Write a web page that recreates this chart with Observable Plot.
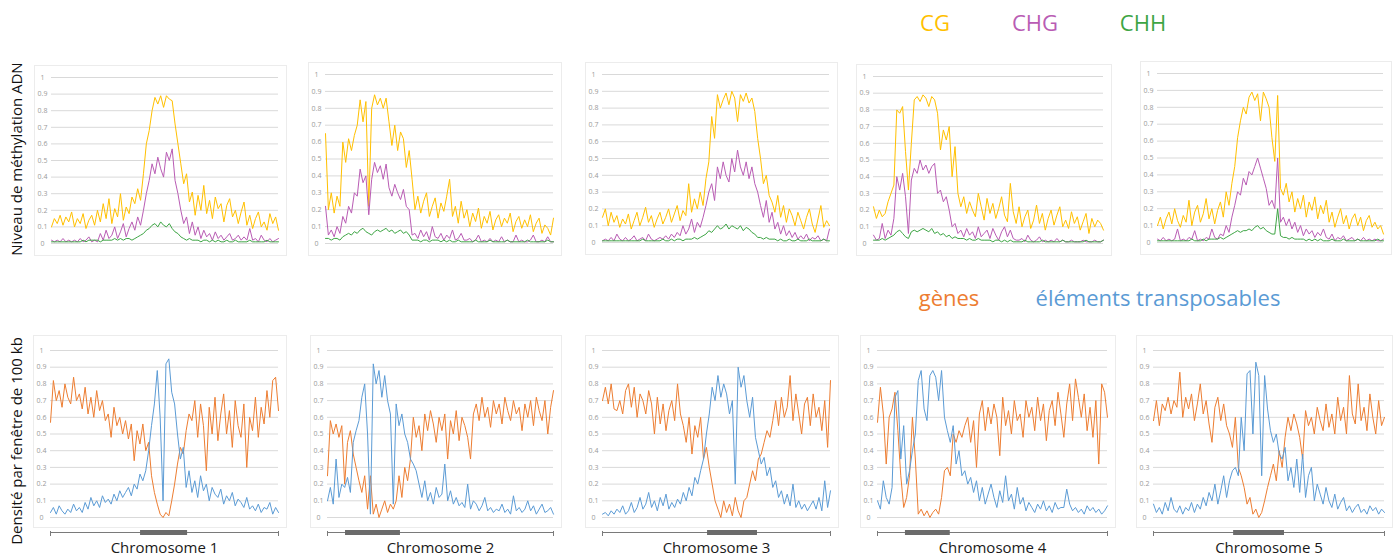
<!DOCTYPE html>
<html><head><meta charset="utf-8">
<script src="https://cdn.jsdelivr.net/npm/d3@7"></script>
<script src="https://cdn.jsdelivr.net/npm/@observablehq/plot@0.6"></script>
<style>
body{margin:0;background:#fff;}
#root{position:relative;width:1397px;height:557px;overflow:hidden;font-family:"Open Sans",Lato,sans-serif;}
.abs{position:absolute;}
.lab{position:absolute;transform:translate(-50%,-50%);font-size:22px;white-space:nowrap;}
.ytitle{position:absolute;transform:translate(-50%,-50%) rotate(-90deg);font-size:15px;white-space:nowrap;color:#111;}
.frame{position:absolute;border:1px solid #ececec;box-sizing:border-box;}
</style></head>
<body><div id="root"></div>
<script>
// ---------- DATA (windows along each chromosome) ----------
const chrLabels = ["Chromosome 1","Chromosome 2","Chromosome 3","Chromosome 4","Chromosome 5"];
const yTicks = [0,0.1,0.2,0.3,0.4,0.5,0.6,0.7,0.8,0.9,1];
// centromere span, in window index units
const centStart = [31.2, 6.3, 36.4, 9.6, 27.4];
const centEnd   = [47.5, 25.5, 53.7, 25.0, 44.8];

// methylation levels
const cg1 = [.10,.15,.12,.17,.11,.16,.13,.19,.10,.15,.12,.18,.09,.14,.17,.11,.20,.13,.24,.15,.27,.12,.21,.16,.30,.14,.22,.18,.28,.24,.33,.26,.42,.60,.68,.80,.88,.84,.89,.82,.89,.87,.86,.72,.60,.48,.36,.42,.25,.31,.17,.29,.20,.35,.18,.26,.15,.28,.21,.24,.13,.23,.27,.16,.20,.12,.19,.25,.11,.17,.09,.15,.19,.10,.13,.08,.18,.12,.16,.08];
const chg1 = [.02,.01,.02,.01,.03,.01,.02,.01,.02,.01,.03,.01,.02,.04,.01,.02,.01,.06,.02,.08,.03,.05,.10,.03,.07,.12,.04,.09,.13,.08,.16,.11,.20,.30,.38,.48,.42,.52,.45,.40,.55,.50,.57,.38,.30,.20,.12,.16,.06,.13,.05,.10,.03,.08,.04,.06,.02,.07,.03,.05,.02,.04,.06,.02,.03,.05,.02,.04,.02,.09,.02,.03,.01,.05,.02,.01,.03,.01,.02,.03];
const chh1 = [.01,.01,.01,.01,.01,.01,.01,.01,.01,.01,.01,.02,.01,.02,.02,.02,.02,.01,.02,.02,.02,.02,.03,.02,.03,.02,.03,.03,.02,.03,.04,.05,.06,.08,.09,.11,.12,.10,.13,.11,.10,.12,.09,.07,.06,.04,.03,.02,.03,.02,.02,.02,.01,.02,.02,.01,.02,.01,.02,.01,.01,.02,.01,.01,.02,.01,.01,.01,.01,.02,.01,.01,.01,.01,.01,.02,.01,.01,.01,.01];

const cg2 = [.65,.20,.30,.18,.28,.22,.60,.48,.62,.55,.64,.70,.85,.72,.84,.22,.80,.88,.82,.86,.80,.86,.72,.58,.70,.55,.66,.62,.45,.55,.38,.20,.28,.18,.25,.30,.16,.22,.27,.15,.24,.19,.28,.38,.16,.22,.12,.25,.15,.20,.10,.18,.13,.21,.09,.16,.12,.19,.08,.14,.17,.10,.15,.12,.18,.07,.13,.16,.09,.14,.10,.17,.07,.12,.15,.06,.11,.09,.05,.15];
const chg2 = [.22,.05,.08,.04,.10,.06,.16,.12,.22,.18,.30,.28,.44,.36,.40,.17,.38,.48,.42,.46,.38,.47,.33,.28,.35,.30,.26,.32,.22,.20,.05,.06,.03,.08,.04,.07,.02,.10,.04,.03,.06,.02,.05,.03,.08,.02,.03,.06,.02,.02,.03,.01,.02,.05,.01,.02,.01,.03,.01,.02,.01,.04,.01,.02,.01,.01,.05,.01,.02,.01,.01,.02,.05,.01,.01,.02,.01,.04,.01,.01];
const chh2 = [.03,.03,.02,.03,.03,.02,.04,.05,.06,.05,.07,.06,.08,.09,.07,.06,.05,.07,.08,.07,.08,.09,.07,.08,.06,.07,.08,.06,.07,.05,.02,.02,.02,.01,.02,.02,.01,.02,.02,.02,.01,.02,.01,.02,.01,.01,.02,.01,.01,.01,.01,.01,.02,.01,.01,.01,.01,.02,.01,.01,.01,.01,.01,.02,.01,.01,.01,.01,.01,.01,.02,.01,.01,.01,.01,.01,.01,.02,.01,.01];

const cg3 = [.15,.20,.10,.18,.12,.16,.09,.14,.11,.17,.08,.13,.18,.10,.15,.21,.12,.16,.09,.14,.18,.11,.15,.20,.12,.17,.22,.13,.19,.16,.35,.18,.26,.20,.30,.22,.38,.48,.75,.62,.88,.80,.85,.89,.82,.90,.86,.72,.88,.84,.89,.83,.86,.78,.62,.50,.35,.40,.28,.24,.18,.28,.15,.22,.12,.20,.16,.10,.18,.13,.08,.15,.20,.11,.06,.14,.22,.09,.13,.10];
const chg3 = [.01,.02,.01,.03,.01,.05,.02,.01,.03,.01,.02,.04,.01,.02,.03,.01,.05,.02,.01,.02,.03,.02,.04,.02,.05,.03,.06,.04,.10,.05,.08,.14,.06,.12,.09,.15,.22,.30,.35,.25,.45,.38,.48,.40,.36,.50,.42,.55,.45,.40,.48,.38,.45,.35,.30,.22,.15,.25,.12,.18,.08,.12,.05,.10,.04,.07,.03,.06,.02,.04,.02,.05,.01,.03,.02,.04,.01,.02,.01,.08];
const chh3 = [.01,.01,.01,.01,.01,.01,.01,.01,.01,.01,.01,.01,.01,.01,.02,.01,.01,.01,.01,.01,.01,.02,.01,.01,.02,.01,.02,.02,.01,.02,.02,.02,.03,.02,.03,.04,.05,.07,.06,.08,.10,.08,.09,.11,.08,.10,.09,.08,.10,.07,.09,.08,.06,.05,.03,.03,.02,.03,.02,.02,.02,.01,.02,.01,.01,.02,.01,.01,.02,.01,.01,.01,.02,.01,.01,.01,.01,.02,.01,.01];

const cg4 = [.22,.15,.20,.16,.18,.25,.30,.35,.80,.78,.82,.55,.32,.60,.86,.88,.85,.89,.87,.82,.88,.86,.78,.56,.68,.62,.70,.40,.58,.30,.22,.28,.18,.25,.20,.16,.30,.22,.14,.27,.18,.24,.15,.21,.28,.17,.13,.36,.19,.12,.22,.10,.16,.20,.09,.14,.23,.12,.18,.08,.15,.20,.11,.17,.22,.10,.14,.09,.19,.12,.16,.08,.13,.18,.06,.15,.10,.14,.12,.08];
const chg4 = [.05,.02,.03,.12,.03,.08,.05,.15,.40,.32,.42,.28,.06,.38,.45,.42,.50,.44,.47,.42,.46,.48,.30,.32,.25,.28,.20,.10,.12,.06,.08,.04,.09,.05,.07,.03,.10,.04,.06,.08,.03,.09,.05,.02,.07,.10,.04,.08,.03,.02,.02,.03,.01,.05,.02,.01,.02,.04,.01,.02,.01,.02,.01,.03,.01,.02,.01,.01,.02,.01,.01,.01,.02,.01,.01,.01,.02,.01,.01,.02];
const chh4 = [.02,.02,.02,.03,.02,.03,.04,.05,.07,.08,.06,.04,.03,.07,.08,.07,.08,.09,.08,.07,.09,.06,.07,.05,.06,.04,.05,.03,.04,.03,.03,.03,.02,.03,.02,.02,.03,.02,.02,.02,.02,.01,.02,.02,.01,.02,.01,.02,.01,.01,.01,.01,.02,.01,.01,.01,.01,.01,.02,.01,.01,.01,.01,.01,.01,.02,.01,.01,.01,.01,.01,.01,.01,.02,.01,.01,.01,.01,.01,.02];

const cg5 = [.10,.15,.08,.14,.18,.11,.20,.13,.09,.16,.12,.25,.10,.18,.22,.12,.17,.26,.14,.20,.11,.19,.24,.15,.30,.22,.35,.45,.62,.72,.80,.76,.86,.89,.84,.88,.72,.89,.85,.80,.62,.48,.87,.32,.28,.35,.24,.30,.18,.26,.20,.28,.15,.24,.19,.27,.14,.22,.17,.25,.12,.18,.09,.15,.20,.11,.16,.08,.14,.17,.10,.15,.07,.13,.16,.09,.12,.08,.10,.05];
const chg5 = [.02,.01,.03,.01,.02,.01,.02,.08,.01,.02,.01,.03,.02,.07,.01,.02,.01,.03,.02,.08,.03,.02,.05,.04,.10,.06,.15,.22,.30,.28,.38,.34,.42,.40,.45,.50,.44,.38,.32,.22,.25,.20,.50,.12,.15,.10,.14,.08,.12,.06,.10,.04,.08,.05,.07,.03,.06,.04,.08,.03,.02,.05,.01,.03,.02,.04,.01,.02,.03,.01,.02,.01,.03,.01,.02,.01,.02,.01,.01,.02];
const chh5 = [.01,.01,.01,.01,.01,.01,.01,.01,.01,.01,.01,.01,.02,.01,.01,.01,.02,.01,.02,.02,.02,.02,.03,.02,.03,.04,.05,.06,.07,.06,.07,.07,.08,.07,.09,.10,.08,.09,.07,.06,.05,.05,.20,.04,.03,.03,.02,.03,.02,.02,.02,.02,.01,.02,.01,.02,.01,.02,.01,.01,.01,.02,.01,.01,.01,.02,.01,.01,.01,.01,.02,.01,.01,.01,.01,.01,.01,.02,.01,.01];

// densities per 100 kb window
const genes1 = [.57,.82,.70,.76,.66,.80,.72,.68,.84,.70,.74,.65,.78,.62,.72,.60,.76,.64,.70,.58,.62,.48,.66,.55,.60,.50,.58,.47,.56,.34,.52,.44,.56,.40,.45,.25,.15,.08,.02,.00,.03,.01,.10,.20,.32,.42,.38,.52,.62,.58,.70,.48,.68,.55,.28,.66,.50,.72,.46,.62,.74,.50,.64,.42,.70,.55,.48,.68,.30,.60,.52,.72,.48,.66,.56,.76,.60,.82,.84,.64];
const te1 = [.03,.06,.02,.07,.04,.02,.05,.03,.08,.04,.06,.03,.09,.05,.12,.07,.10,.06,.13,.09,.11,.08,.14,.10,.16,.12,.15,.18,.13,.20,.17,.26,.22,.28,.40,.55,.68,.88,.60,.10,.92,.95,.75,.68,.50,.35,.42,.18,.28,.15,.22,.12,.25,.16,.20,.10,.18,.14,.12,.17,.08,.13,.10,.15,.07,.11,.09,.06,.12,.05,.07,.04,.08,.03,.06,.05,.09,.02,.06,.03];
const genes2 = [.25,.58,.50,.56,.48,.55,.20,.45,.52,.38,.30,.22,.15,.25,.05,.25,.02,.08,.00,.05,.10,.03,.08,.05,.10,.25,.12,.30,.22,.35,.60,.48,.55,.40,.62,.52,.64,.56,.45,.60,.52,.62,.35,.58,.50,.64,.46,.60,.55,.48,.35,.62,.68,.58,.72,.60,.66,.54,.70,.62,.68,.56,.72,.64,.58,.70,.62,.66,.52,.68,.60,.70,.55,.72,.64,.58,.70,.50,.66,.76];
const te2 = [.10,.18,.08,.35,.12,.20,.18,.24,.15,.45,.52,.58,.72,.80,.50,.02,.92,.80,.88,.72,.85,.70,.62,.08,.68,.55,.62,.50,.45,.35,.32,.28,.20,.12,.22,.10,.15,.08,.18,.12,.14,.32,.10,.16,.08,.12,.07,.09,.06,.20,.05,.10,.08,.04,.07,.12,.04,.06,.03,.05,.04,.08,.03,.05,.02,.13,.04,.06,.03,.05,.10,.04,.07,.02,.05,.08,.03,.04,.06,.02];
const genes3 = [.70,.78,.68,.80,.65,.64,.70,.62,.76,.80,.66,.78,.60,.74,.70,.62,.76,.68,.50,.72,.56,.68,.52,.64,.70,.58,.80,.62,.55,.45,.60,.38,.55,.48,.60,.35,.42,.30,.20,.10,.05,.00,.10,.03,.08,.01,.12,.04,.00,.10,.12,.20,.28,.22,.35,.38,.45,.52,.48,.58,.70,.55,.72,.60,.66,.85,.58,.74,.62,.50,.68,.72,.55,.74,.60,.66,.52,.70,.42,.82];
const te3 = [.02,.03,.01,.04,.02,.05,.03,.07,.02,.04,.09,.03,.06,.12,.05,.08,.15,.06,.10,.04,.12,.07,.14,.05,.09,.06,.11,.08,.15,.10,.18,.13,.24,.20,.28,.35,.50,.62,.78,.70,.85,.72,.80,.74,.62,.70,.20,.90,.78,.85,.70,.60,.72,.48,.40,.32,.36,.25,.30,.18,.22,.12,.16,.08,.14,.07,.20,.06,.10,.05,.08,.04,.07,.10,.05,.12,.04,.22,.06,.16];
const genes4 = [.57,.78,.62,.32,.60,.65,.75,.52,.25,.06,.12,.25,.60,.35,.02,.05,.01,.04,.00,.03,.05,.02,.12,.28,.30,.25,.50,.45,.52,.48,.55,.60,.45,.58,.30,.62,.70,.52,.66,.56,.68,.60,.37,.72,.55,.64,.50,.70,.58,.62,.48,.70,.60,.66,.52,.72,.58,.68,.46,.64,.70,.55,.75,.62,.48,.68,.80,.58,.83,.72,.60,.74,.52,.66,.48,.70,.32,.80,.75,.60];
const te4 = [.10,.05,.22,.12,.08,.18,.72,.76,.35,.55,.20,.28,.40,.50,.82,.88,.65,.58,.85,.88,.84,.70,.88,.60,.52,.45,.55,.32,.40,.25,.28,.20,.24,.15,.22,.10,.18,.08,.14,.20,.12,.06,.16,.09,.25,.10,.14,.05,.18,.08,.12,.04,.09,.06,.03,.08,.05,.10,.04,.07,.03,.09,.05,.06,.06,.17,.08,.04,.06,.03,.05,.02,.07,.04,.06,.03,.05,.02,.04,.07];
const genes5 = [.58,.70,.55,.68,.64,.72,.62,.70,.66,.87,.60,.72,.65,.74,.58,.68,.80,.62,.70,.56,.45,.66,.72,.58,.68,.55,.50,.42,.60,.30,.25,.18,.08,.12,.02,.05,.00,.03,.10,.18,.25,.32,.22,.40,.30,.48,.60,.52,.62,.56,.48,.35,.64,.55,.60,.50,.66,.58,.52,.68,.54,.62,.50,.72,.58,.66,.50,.85,.62,.56,.80,.58,.66,.52,.74,.60,.50,.70,.55,.60];
const te5 = [.08,.03,.06,.02,.09,.04,.12,.05,.03,.07,.02,.06,.04,.09,.03,.08,.05,.12,.07,.15,.10,.20,.08,.16,.25,.12,.22,.28,.30,.25,.60,.40,.86,.88,.50,.93,.85,.25,.85,.65,.52,.45,.50,.38,.35,.42,.22,.30,.18,.35,.15,.38,.12,.25,.30,.10,.20,.14,.08,.18,.10,.06,.14,.05,.09,.12,.04,.07,.03,.06,.08,.03,.05,.02,.07,.04,.06,.02,.05,.03];

// ---------- STYLE ----------
const cCG = "#FFC000", cCHG = "#B95CB4", cCHH = "#3DA544";
const cGenes = "#ED7D31", cTE = "#5B9BD5";
const FONT = '"Open Sans", Lato, sans-serif';

const topPanels = [
  {series:[cg1,chg1,chh1], gL:51, gR:278, y1:77, y0:243},
  {series:[cg2,chg2,chh2], gL:325, gR:553, y1:74, y0:243},
  {series:[cg3,chg3,chh3], gL:602, gR:829, y1:74, y0:242},
  {series:[cg4,chg4,chh4], gL:873, gR:1103, y1:76, y0:243},
  {series:[cg5,chg5,chh5], gL:1157, gR:1383, y1:73, y0:242}
];
const botPanels = [
  {series:[genes1,te1], gL:50, gR:278},
  {series:[genes2,te2], gL:327, gR:553},
  {series:[genes3,te3], gL:602, gR:830},
  {series:[genes4,te4], gL:877, gR:1107},
  {series:[genes5,te5], gL:1153, gR:1384}
];

const root = document.getElementById("root");
const tickFmt = d => (d === 0 ? "0" : d === 1 ? "1" : d.toFixed(1));

function addFrame(l, t, w, h) {
  const f = document.createElement("div");
  f.className = "frame";
  Object.assign(f.style, {left: l + "px", top: t + "px", width: w + "px", height: h + "px"});
  root.appendChild(f);
}

function panel(p, colors, bottom, k) {
  const mL = 30, mR = 10, mT = 15, mB = bottom ? 42 : 15;
  const y1 = bottom ? 350 : p.y1, y0 = bottom ? 517 : p.y0;
  const n = p.series[0].length;
  const width = p.gR - p.gL + mL + mR;
  const height = y0 - y1 + mT + mB;
  const marks = [
    Plot.gridY(yTicks, {stroke: "#d9d9d9", strokeOpacity: 1, strokeWidth: 1}),
    Plot.axisY(yTicks, {tickSize: 0, tickPadding: 9, textAnchor: "middle", fontSize: 7, fill: "#9a9a9a", tickFormat: tickFmt, label: null}),
    ...p.series.map((s, j) => Plot.lineY(s, {x: (d, i) => i, y: d => d, stroke: colors[j], strokeWidth: 1}))
  ];
  if (bottom) {
    marks.push(
      Plot.ruleY([0], {x1: 0, x2: n - 1, dy: 15, stroke: "#7a7a7a", strokeWidth: 1}),
      Plot.ruleX([0, n - 1], {y1: 0, y2: 0.03, dy: 19, stroke: "#7a7a7a", strokeWidth: 1}),
      Plot.ruleY([0], {x1: centStart[k], x2: centEnd[k], dy: 15, stroke: "#6b6b6b", strokeWidth: 5}),
      Plot.text([chrLabels[k]], {x: (n - 1) / 2, y: 0, dy: 31, text: d => d, fontSize: 15, fill: "#1a1a1a"})
    );
  }
  const svg = Plot.plot({
    width, height, marginLeft: mL, marginRight: mR, marginTop: mT, marginBottom: mB,
    x: {domain: [0, n - 1], axis: null},
    y: {domain: [0, 1], axis: null},
    style: {fontFamily: FONT, background: "transparent", overflow: "visible"},
    marks
  });
  svg.classList.add("abs");
  svg.style.left = (p.gL - mL) + "px";
  svg.style.top = (y1 - mT) + "px";
  // light chart-area border like the spreadsheet charts
  if (bottom) addFrame(p.gL - 17, 335, p.gR - p.gL + 26, 193);
  else addFrame(p.gL - 17, p.y1 - 12, p.gR - p.gL + 26, p.y0 - p.y1 + 25);
  root.appendChild(svg);
}

topPanels.forEach((p, k) => panel(p, [cCG, cCHG, cCHH], false, k));
botPanels.forEach((p, k) => panel(p, [cGenes, cTE], true, k));

// legends and titles (HTML text)
function addText(txt, cls, x, y, color) {
  const d = document.createElement("div");
  d.className = cls; d.textContent = txt;
  d.style.left = x + "px"; d.style.top = y + "px";
  if (color) d.style.color = color;
  root.appendChild(d);
}
addText("CG", "lab", 935, 22, cCG);
addText("CHG", "lab", 1035, 22, cCHG);
addText("CHH", "lab", 1143, 22, cCHH);
addText("gènes", "lab", 949, 297, cGenes);
addText("éléments transposables", "lab", 1158, 297, cTE);
addText("Niveau de méthylation ADN", "ytitle", 16, 159);
addText("Densité par fenêtre de 100 kb", "ytitle", 16, 441);
</script></body></html>
